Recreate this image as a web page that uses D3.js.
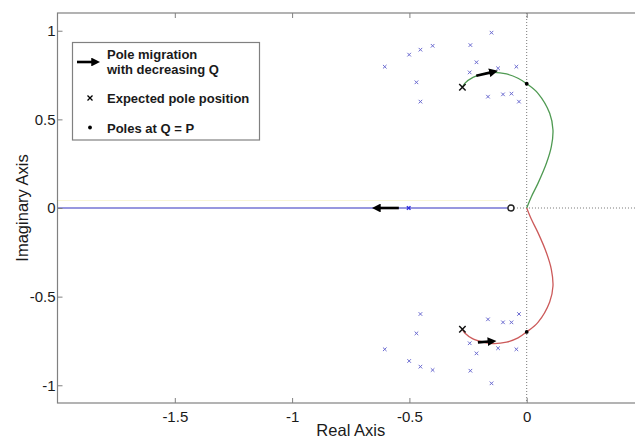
<!DOCTYPE html>
<html>
<head>
<meta charset="utf-8">
<script src="https://d3js.org/d3.v7.min.js"></script>
<style>
body { margin: 0; background: #fff; }
text { font-family: "Liberation Sans", Arial, sans-serif; fill: #1a1a1a; }
</style>
</head>
<body>
<svg id="chart" width="635" height="439"></svg>
<script>
// axis ticks
var xTicks = [-1.5, -1, -0.5, 0];
var yTicks = [-1, -0.5, 0, 0.5, 1];

// expected pole positions (small blue crosses), [re, im]
var expectedUpper = [
  [-0.150, 0.989], [-0.240, 0.919], [-0.401, 0.915], [-0.453, 0.893],
  [-0.501, 0.865], [-0.605, 0.797], [-0.214, 0.822], [-0.243, 0.765],
  [-0.122, 0.788], [-0.044, 0.797], [-0.470, 0.709], [-0.453, 0.600],
  [-0.165, 0.628], [-0.101, 0.641], [-0.065, 0.645], [-0.033, 0.600]
];
var expectedLower = [
  [-0.453, -0.598], [-0.470, -0.707], [-0.605, -0.797], [-0.501, -0.863],
  [-0.453, -0.895], [-0.401, -0.914], [-0.240, -0.918], [-0.150, -0.989],
  [-0.243, -0.763], [-0.214, -0.820], [-0.122, -0.791], [-0.044, -0.797],
  [-0.165, -0.628], [-0.101, -0.645], [-0.065, -0.645], [-0.033, -0.598]
];

// root locus branches
var branchUpper = [
  [-0.274, 0.681], [-0.264, 0.703], [-0.229, 0.737], [-0.186, 0.756],
  [-0.144, 0.765], [-0.086, 0.756], [-0.037, 0.732], [0, 0.701],
  [0.048, 0.647], [0.098, 0.534], [0.112, 0.44], [0.105, 0.346],
  [0.084, 0.252], [0.048, 0.139], [0.02, 0.064], [0, 0]
];
var branchLower = [
  [-0.274, -0.684], [-0.264, -0.705], [-0.229, -0.738], [-0.186, -0.756],
  [-0.144, -0.765], [-0.086, -0.757], [-0.037, -0.733], [0, -0.699],
  [0.048, -0.645], [0.098, -0.530], [0.112, -0.44], [0.105, -0.346],
  [0.084, -0.252], [0.048, -0.139], [0.02, -0.064], [0, 0]
];
var realBranch = [[-2, 0], [-0.067, 0]];

var startPoles = [[-0.274, 0.681], [-0.274, -0.684]];
var polesAtQP = [[0, 0.701], [0, -0.699]];
var zeroPoint = [-0.067, 0];
var realMarker = [-0.503, 0];

// migration arrows [from, to]
var arrows = [
  [[-0.215, 0.746], [-0.152, 0.765]],
  [[-0.208, -0.758], [-0.159, -0.753]],
  [[-0.545, 0], [-0.630, 0]]
];

var svg = d3.select("#chart");
var x = d3.scaleLinear().domain([-2, 0.5]).range([57.5, 644]);
var y = d3.scaleLinear().domain([-1.1, 1.1]).range([403, 13]);

var plot = svg.append("g");

svg.append("defs").append("marker")
  .attr("id", "head")
  .attr("viewBox", "0 -5 10 10")
  .attr("refX", 2).attr("refY", 0)
  .attr("markerWidth", 3.6).attr("markerHeight", 3.4)
  .attr("markerUnits", "strokeWidth")
  .attr("orient", "auto")
  .append("path").attr("d", "M0,-5L10,0L0,5Z").attr("fill", "#000");

// faint yellow trace above the real branch
plot.append("line")
  .attr("x1", x(-2)).attr("x2", x(-0.08))
  .attr("y1", y(0) - 7.5).attr("y2", y(0) - 7.5)
  .attr("stroke", "#f8f5d6").attr("stroke-width", 1);

// dotted zero lines
plot.append("line")
  .attr("x1", x(0)).attr("x2", x(0)).attr("y1", y(1.1)).attr("y2", y(-1.1))
  .attr("stroke", "#777").attr("stroke-width", 1).attr("stroke-dasharray", "1,2");
plot.append("line")
  .attr("x1", x(zeroPoint[0])).attr("x2", x(0.5)).attr("y1", y(0)).attr("y2", y(0))
  .attr("stroke", "#777").attr("stroke-width", 1).attr("stroke-dasharray", "1,2");

var line = d3.line().x(function(d) { return x(d[0]); }).y(function(d) { return y(d[1]); })
  .curve(d3.curveCatmullRom);

plot.append("path").datum(realBranch).attr("d", line)
  .attr("fill", "none").attr("stroke", "#7474d4").attr("stroke-width", 1.4);
plot.append("path").datum(branchUpper).attr("d", line)
  .attr("fill", "none").attr("stroke", "#4f9a52").attr("stroke-width", 1.3);
plot.append("path").datum(branchLower).attr("d", line)
  .attr("fill", "none").attr("stroke", "#cc5a5a").attr("stroke-width", 1.3);

// small blue crosses
function cross(g, pts, s, color, w) {
  g.selectAll(null).data(pts).enter().append("path")
    .attr("d", function(d) {
      var cx = x(d[0]), cy = y(d[1]);
      return "M" + (cx - s) + "," + (cy - s) + "L" + (cx + s) + "," + (cy + s) +
             "M" + (cx - s) + "," + (cy + s) + "L" + (cx + s) + "," + (cy - s);
    })
    .attr("stroke", color).attr("stroke-width", w).attr("fill", "none");
}
cross(plot, expectedUpper.concat(expectedLower), 1.8, "#6a6ad0", 1);
cross(plot, [realMarker], 1.8, "#3030e0", 1.4);
cross(plot, startPoles, 3.2, "#111", 1.5);

plot.selectAll(null).data(polesAtQP).enter().append("circle")
  .attr("cx", function(d) { return x(d[0]); }).attr("cy", function(d) { return y(d[1]); })
  .attr("r", 1.9).attr("fill", "#000");

plot.append("circle")
  .attr("cx", x(zeroPoint[0])).attr("cy", y(zeroPoint[1])).attr("r", 3)
  .attr("fill", "#fff").attr("stroke", "#222").attr("stroke-width", 1.4);

plot.selectAll(null).data(arrows).enter().append("line")
  .attr("x1", function(d) { return x(d[0][0]); }).attr("y1", function(d) { return y(d[0][1]); })
  .attr("x2", function(d) { return x(d[1][0]); }).attr("y2", function(d) { return y(d[1][1]); })
  .attr("stroke", "#000").attr("stroke-width", 2.6).attr("marker-end", "url(#head)");

// axes box
svg.append("rect")
  .attr("x", x(-2)).attr("y", y(1.1))
  .attr("width", x(0.5) - x(-2)).attr("height", y(-1.1) - y(1.1))
  .attr("fill", "none").attr("stroke", "#808080").attr("stroke-width", 1.2);

var xb = svg.append("g").attr("transform", "translate(0," + y(-1.1) + ")")
  .call(d3.axisBottom(x).tickValues(xTicks).tickSize(-5).tickPadding(8)
    .tickFormat(function(d) { return d3.format("")(d).replace("\u2212", "-"); }));
var xt = svg.append("g").attr("transform", "translate(0," + y(1.1) + ")")
  .call(d3.axisTop(x).tickValues(xTicks).tickSize(-5).tickFormat(""));
var yl = svg.append("g").attr("transform", "translate(" + x(-2) + ",0)")
  .call(d3.axisLeft(y).tickValues(yTicks).tickSize(-5).tickPadding(2)
    .tickFormat(function(d) { return d3.format("")(d).replace("\u2212", "-"); }));
[xb, xt, yl].forEach(function(g) {
  g.select(".domain").remove();
  g.selectAll(".tick line").attr("stroke", "#808080");
  g.selectAll("text").attr("font-size", 15).attr("fill", "#1a1a1a")
    .attr("font-family", "Liberation Sans, Arial, sans-serif");
});

svg.append("text").attr("x", (x(-2) + x(0.5)) / 2).attr("y", 436)
  .attr("text-anchor", "middle").attr("font-size", 16.5).text("Real Axis");
svg.append("text")
  .attr("transform", "translate(28," + y(0) + ") rotate(-90)")
  .attr("text-anchor", "middle").attr("font-size", 16.5).text("Imaginary Axis");

// legend
var lg = svg.append("g");
lg.append("rect").attr("x", 72.5).attr("y", 42.5).attr("width", 187).attr("height", 97.5)
  .attr("fill", "#fff").attr("stroke", "#808080").attr("stroke-width", 1.2);
lg.append("line").attr("x1", 77).attr("x2", 93).attr("y1", 62).attr("y2", 62)
  .attr("stroke", "#000").attr("stroke-width", 2.6).attr("marker-end", "url(#head)");
lg.append("path").attr("d", "M87.5,95.5L92.5,100.5M87.5,100.5L92.5,95.5")
  .attr("stroke", "#000").attr("stroke-width", 1.3);
lg.append("circle").attr("cx", 90).attr("cy", 127.5).attr("r", 1.9).attr("fill", "#000");
var legendLines = [["Pole migration", 58.5], ["with decreasing Q", 73.5], ["Expected pole position", 103], ["Poles at Q = P", 132.5]];
lg.selectAll(null).data(legendLines).enter().append("text")
  .attr("x", 107).attr("y", function(d) { return d[1]; })
  .attr("font-size", 13).attr("font-weight", "bold").text(function(d) { return d[0]; });
</script>
</body>
</html>
